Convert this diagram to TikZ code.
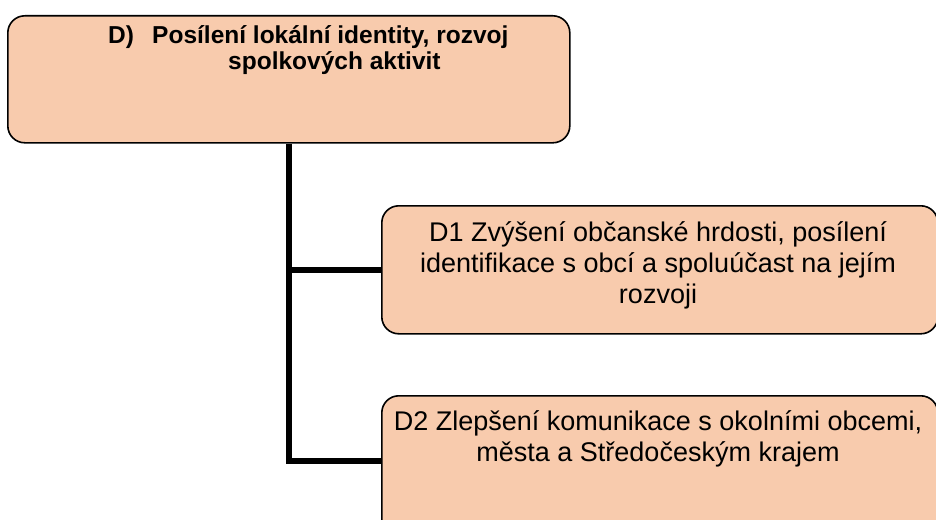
\documentclass[tikz,border=0pt]{standalone}
\usepackage{fontspec}
\setmainfont{Liberation Sans}
\definecolor{peach}{HTML}{F8CBAD}
\begin{document}
\begin{tikzpicture}[x=1pt,y=-1pt,
  box/.style={draw=black,line width=1.6pt,fill=peach,rounded corners=17pt,inner sep=0pt},
  link/.style={draw=black,line width=6pt},
  ttl/.style={font=\fontsize{24.5}{28}\selectfont\bfseries,inner sep=0pt,anchor=base west},
  txt/.style={font=\fontsize{27}{31}\selectfont,inner sep=0pt,anchor=base}]
\useasboundingbox (0,0) rectangle (936,519);
\clip (0,0) rectangle (936,519);
% boxes
\node[box,minimum width=562pt,minimum height=127pt,anchor=north west] (top) at (7,15) {};
\node[box,minimum width=556pt,minimum height=128pt,anchor=north west] (d1) at (381,205) {};
\node[box,minimum width=556pt,minimum height=140pt,anchor=north west] (d2) at (381,395) {};
% connectors
\coordinate (trunk) at (288.5,142);
\coordinate (j1) at (288.5,270);
\coordinate (j2) at (288.5,461);
\draw[link] (top.south -| trunk) -- (j2) -- (d2.west |- j2);
\draw[link] (j1) -- (d1.west |- j1);
% top text
\node[ttl] (tD) at (108,44) {D)};
\node[ttl] (t1) at (152,44) {Posílení lokální identity, rozvoj};
\node[ttl] (t2) at (228,70) {spolkových aktivit};
% D1 text
\node[txt] (a1) at (658,241) {D1 Zvýšení občanské hrdosti, posílení};
\node[txt] (a2) at (658,272) {identifikace s obcí a spoluúčast na jejím};
\node[txt] (a3) at (658,303) {rozvoji};
% D2 text
\node[txt] (b1) at (658,430) {D2 Zlepšení komunikace s okolními obcemi,};
\node[txt] (b2) at (658,461) {města a Středočeským krajem};
\end{tikzpicture}
\end{document}
